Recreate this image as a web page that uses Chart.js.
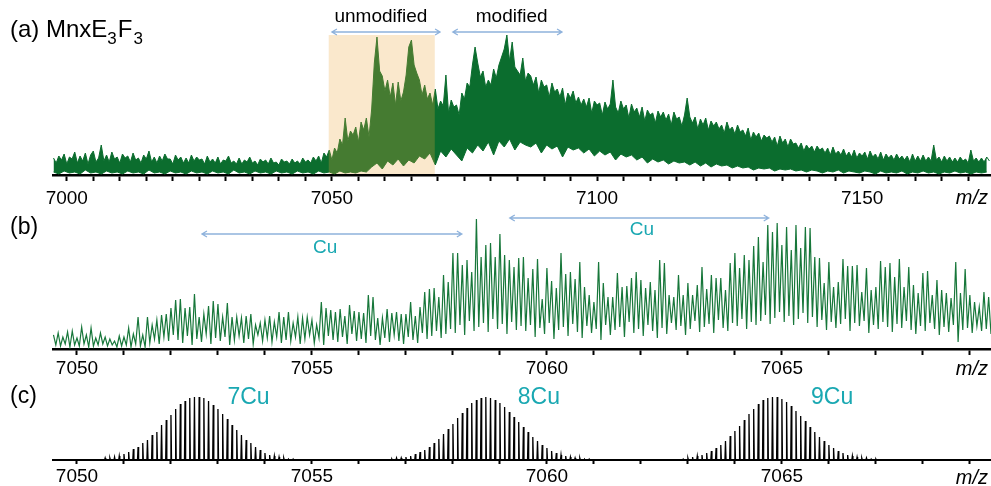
<!DOCTYPE html>
<html>
<head>
<meta charset="utf-8">
<script src="https://cdn.jsdelivr.net/npm/chart.js@4.4.0/dist/chart.umd.min.js"></script>
<style>
  html, body { margin: 0; padding: 0; background: #fff; }
  #wrap { position: relative; width: 991px; height: 486px; overflow: hidden; background: #fff; }
  canvas { position: absolute; left: 0; }
</style>
</head>
<body>
<div id="wrap">
  <canvas id="chart-a" width="991" height="215" style="top:0px"></canvas>
  <canvas id="chart-b" width="991" height="180" style="top:210px"></canvas>
  <canvas id="chart-c" width="991" height="101" style="top:385px"></canvas>
</div>
<script>
// (a) full spectrum: upper edge every 0.5 m/z from 6997.5
const scanStart = 6997.5;
const scanStep = 0.5;
const scanTop = [
  17,12,19,15,21,11,18,16,23,12, 19,14,22,11,20,24,13,17,30,14,
  20,13,23,16,18,12,21,17,19,13, 22,15,17,12,20,16,24,13,18,12,
  19,14,21,16,16,11,20,15,18,12, 17,12,20,14,18,15,16,11,19,13,
  16,12,18,11,15,14,19,12,14,11, 17,11,15,13,18,12,14,10,16,13,
  15,11,17,12,13,10,16,13,14,11, 16,12,14,11,17,13,15,12,18,14,
  19,12,22,18,25,15,27,22,36,30, 57,34,44,40,48,33,53,45,57,38,
  66,112,138,104,99,84,95,78,92,70, 93,74,83,100,128,135,110,102,95,80,
  90,76,82,70,86,66,74,69,100,62, 75,68,70,60,82,76,92,88,110,128,
  112,98,104,88,95,90,106,97,110,118, 126,140,114,133,108,104,100,117,94,102,
  99,90,98,82,95,88,90,78,92,83, 86,78,87,70,82,77,84,72,78,70,
  76,68,77,62,74,70,72,60,73,66, 71,95,68,62,74,66,70,57,71,63,
  67,58,68,54,65,60,62,52,64,58, 63,55,61,50,63,56,58,49,60,77,
  58,52,58,46,56,50,57,45,54,49, 53,46,50,42,53,45,48,41,50,43,
  45,39,47,35,43,38,42,34,40,37, 39,33,38,29,39,32,36,28,36,31,
  32,27,32,24,30,26,29,23,29,25, 27,22,27,20,28,21,24,20,26,19,
  23,18,25,17,22,19,23,16,24,18, 21,16,23,15,21,17,20,15,21,16,
  19,15,19,13,21,14,19,14,20,14, 18,14,30,15,18,13,19,14,18,13,
  17,13,18,14,16,12,25,14,17,13, 17,13,18,14
];
// lower edge of the same trace, every 1 m/z
const scanBottomStep = 1;
const scanBottom = [
  3,1,4,2,3,1,5,2,3,1, 4,2,3,1,4,2,3,1,5,2, 3,1,4,2,3,1,4,2,3,1,
  4,2,3,1,5,2,3,1,4,2, 3,1,4,2,3,1,4,2,3,1, 4,2,3,1,4,2,3,2,4,3,
  8,12,6,14,10,16,9,15,12,19, 16,22,10,24,18,26,20,14,27,22,
  30,24,33,20,34,28,36,25,33,30, 28,32,22,30,26,29,18,28,25,27,
  22,26,19,24,20,23,15,21,18,20, 15,18,12,16,13,15,11,14,12,13,
  10,13,9,12,8,11,9,10,7,9, 7,8,5,7,6,7,4,6,5,6,
  4,5,3,5,4,2,4,3,5,2, 4,3,2,4,3,1,4,2,3,2, 4,1,3,2,4,2,3,1,3,2, 4,2,3,1,3,2,3
];

// (b) expanded region: one peak top and one valley per isotope (0.1 m/z)
const zoomStart = 7049.5;
const zoomStep = 0.1;
const zoomPeaks = [
  14,16,12,17,18,11,22,14,21,11, 16,12,10,8,13,12,21,15,32,14,
  32,24,29,34,35,41,49,50,41,42, 55,32,35,43,48,45,32,46,32,32,
  31,33,35,24,26,29,33,27,37,32, 37,26,32,31,32,29,24,47,41,39,
  37,40,33,44,38,37,36,54,52,31, 31,40,36,37,35,35,47,33,42,57,
  60,61,52,74,67,96,96,84,89,77, 130,92,104,106,92,115,94,89,82,91,
  92,71,80,90,50,81,68,61,96,75, 77,70,87,62,54,47,87,66,52,52,
  76,62,63,71,77,69,61,67,59,89, 86,54,52,74,54,66,54,64,82,60,
  74,71,71,59,86,96,81,94,89,103, 112,87,124,117,126,104,122,99,124,101,
  122,121,92,91,66,87,62,67,90,83, 83,84,57,81,59,62,88,82,86,72,
  90,62,82,64,56,76,78,54,69,59, 56,51,87,56,80,54,47,42,57,52
];
const zoomValleys = [
  4,3,5,2,4,3,5,2,3,4, 5,3,4,2,3,4,2,5,3,2,
  6,10,5,12,8,14,9,6,13,4, 10,7,15,5,11,8,12,4,9,13,
  6,10,5,14,8,11,7,12,6,9, 8,12,5,10,14,6,11,4,13,9,
  7,12,5,15,8,10,6,13,9,4, 11,7,14,8,5,12,9,6,16,10,
  13,18,11,15,20,16,24,14,28,18, 22,26,17,30,20,25,15,27,19,23,
  18,24,12,21,15,26,10,19,22,13, 25,17,11,23,16,20,9,24,14,19,
  22,12,27,16,20,13,24,18,11,21, 15,26,19,23,14,20,28,17,22,25,
  16,29,21,18,26,23,30,20,27,24, 28,34,25,31,37,27,33,24,30,36,
  26,32,22,29,19,27,21,25,30,18, 26,23,28,16,24,20,27,22,17,25,
  21,28,19,15,23,18,26,20,14,22, 17,24,7,19,21,16,23,18,20,15
];

// (c) simulated isotope patterns, 0.1 m/z apart
const isoStep = 0.1;
const cu7Start = 7050.6;
const cu7 = [2,2,3,4,6,8,11,13,17,20,25,28,35,40,45,51,56,59,62,63,63,62,59,55,51,46,41,35,30,25,20,17,13,10,7,5,4,3,2,1,1];
const cu8Start = 7056.7;
const cu8 = [1,2,2,3,4,6,8,10,13,17,21,26,31,36,42,47,52,57,60,62,63,62,60,57,53,48,43,38,33,28,23,19,15,12,9,7,5,4,3,2,2,1,1];
const cu9Start = 7062.9;
const cu9 = [1,2,3,4,5,7,9,12,15,19,24,29,34,40,46,51,56,60,62,63,63,61,58,54,49,44,39,33,28,23,19,15,12,9,7,5,4,3,2,2,1,1];

const FONT = '"Liberation Sans", Arial, Helvetica, sans-serif';
const GREEN = '#0b6d2e';
const LINE_GREEN = '#17773a';
const TEAL = '#1aa8b2';
const ARROW = '#8eb2dc';

function drawArrow(ctx, x1, x2, y) {
    ctx.save();
    ctx.strokeStyle = ARROW;
    ctx.lineWidth = 1.3;
    ctx.beginPath();
    ctx.moveTo(x1, y); ctx.lineTo(x2, y);
    ctx.moveTo(x1 + 5, y - 3); ctx.lineTo(x1, y); ctx.lineTo(x1 + 5, y + 3);
    ctx.moveTo(x2 - 5, y - 3); ctx.lineTo(x2, y); ctx.lineTo(x2 - 5, y + 3);
    ctx.stroke();
    ctx.restore();
}

// shaded box, arrows and text labels, placed with the chart's own scales
const annotate = {
    id: 'annotate',
    afterDatasetsDraw(chart, args, opts) {
        if (!opts.shade) return;
        const sx = chart.scales.x, sy = chart.scales.y, s = opts.shade;
        const l = sx.getPixelForValue(s.from), r = sx.getPixelForValue(s.to);
        const t = sy.getPixelForValue(s.top), b = sy.getPixelForValue(1);
        chart.ctx.save();
        chart.ctx.fillStyle = s.color;
        chart.ctx.fillRect(l, t, r - l, b - t);
        chart.ctx.restore();
    },
    afterDraw(chart, args, opts) {
        const ctx = chart.ctx, sx = chart.scales.x, sy = chart.scales.y;
        (opts.arrows || []).forEach(a => {
            drawArrow(ctx, sx.getPixelForValue(a.from), sx.getPixelForValue(a.to), sy.getPixelForValue(a.y));
        });
        (opts.labels || []).forEach(l => {
            ctx.save();
            ctx.font = l.font;
            ctx.fillStyle = l.color || '#000';
            ctx.textAlign = l.align || 'center';
            ctx.textBaseline = 'middle';
            const px = l.px !== undefined ? l.px : sx.getPixelForValue(l.x);
            const py = l.py !== undefined ? l.py : sy.getPixelForValue(l.y);
            ctx.fillText(l.text, px, py);
            ctx.restore();
        });
        if (opts.title) {
            let x = opts.title.x;
            ctx.save();
            ctx.fillStyle = '#000';
            ctx.textBaseline = 'alphabetic';
            ctx.textAlign = 'left';
            opts.title.parts.forEach(p => {
                ctx.font = p.size + 'px ' + FONT;
                ctx.fillText(p.text, x, opts.title.y + p.dy);
                x += ctx.measureText(p.text).width + (p.gap || 0);
            });
            ctx.restore();
        }
    }
};

function panelOptions(cfg) {
    return {
        responsive: false,
        animation: false,
        devicePixelRatio: 1,
        layout: { padding: { left: 53, right: 0, top: cfg.top, bottom: 0 } },
        elements: { point: { radius: 0 }, line: { tension: 0 } },
        scales: {
            x: {
                type: 'linear',
                min: cfg.min,
                max: cfg.max,
                afterFit: (s) => { s.height = cfg.axisHeight; },
                border: { display: true, color: '#000', width: cfg.axisWidth },
                grid: { display: true, drawOnChartArea: false, drawTicks: true, tickLength: cfg.tickLength, tickColor: '#000', tickWidth: 2 },
                ticks: {
                    stepSize: cfg.minorStep,
                    includeBounds: false,
                    autoSkip: false,
                    maxRotation: 0,
                    color: '#000',
                    padding: cfg.labelPad,
                    font: { family: FONT, size: 19 },
                    callback: (v) => (Math.round(v) % cfg.majorStep === 0 ? String(Math.round(v)) : '')
                }
            },
            y: { display: false, min: 0, max: cfg.yMax }
        },
        plugins: {
            legend: { display: false },
            tooltip: { enabled: false },
            annotate: cfg.annotate
        }
    };
}

// ---- (a)
const topPoints = scanTop.map((v, i) => ({ x: scanStart + i * scanStep, y: v }));
const bottomPoints = scanBottom.map((v, i) => ({ x: scanStart + i * scanBottomStep, y: v }));

new Chart(document.getElementById('chart-a'), {
    type: 'line',
    data: {
        datasets: [
            { data: topPoints, borderColor: GREEN, borderWidth: 1, backgroundColor: GREEN, fill: '+1' },
            { data: bottomPoints, borderColor: GREEN, borderWidth: 1, fill: false }
        ]
    },
    options: panelOptions({
        top: 30, axisHeight: 40, min: 6997.4, max: 7174.3, yMax: 145,
        minorStep: 5, majorStep: 50, tickLength: 6, labelPad: 6, axisWidth: 2.5,
        annotate: {
            shade: { from: 7049.4, to: 7069.4, top: 140, color: 'rgba(236,166,59,0.26)' },
            arrows: [ { from: 7050.0, to: 7070.4, y: 143 }, { from: 7072.8, to: 7093.4, y: 143 } ],
            labels: [
                { text: 'unmodified', x: 7059.25, y: 158, font: '19px ' + FONT },
                { text: 'modified', x: 7083.9, y: 158, font: '19px ' + FONT },
                { text: 'm/z', px: 988, py: 198, align: 'right', font: 'italic 20px ' + FONT }
            ],
            title: { x: 10, y: 37, parts: [
                { text: '(a) MnxE', size: 24, dy: 0 },
                { text: '3', size: 17, dy: 7, gap: 1 },
                { text: 'F', size: 24, dy: 0, gap: 1 },
                { text: '3', size: 17, dy: 7 }
            ] }
        }
    }),
    plugins: [annotate]
});

// ---- (b)
const zoomPoints = [];
zoomPeaks.forEach((v, i) => {
    zoomPoints.push({ x: zoomStart + i * zoomStep, y: v });
    zoomPoints.push({ x: zoomStart + i * zoomStep + zoomStep / 2, y: zoomValleys[i] });
});

new Chart(document.getElementById('chart-b'), {
    type: 'line',
    data: { datasets: [ { data: zoomPoints, borderColor: LINE_GREEN, borderWidth: 1.2, fill: false } ] },
    options: panelOptions({
        top: 5, axisHeight: 41, min: 7049.49, max: 7069.45, yMax: 134,
        minorStep: 1, majorStep: 5, tickLength: 6, labelPad: 2, axisWidth: 2.5,
        annotate: {
            arrows: [ { from: 7052.66, to: 7058.19, y: 115 }, { from: 7059.21, to: 7064.72, y: 131 } ],
            labels: [
                { text: 'Cu', x: 7055.28, y: 101, color: TEAL, font: '19px ' + FONT },
                { text: 'Cu', x: 7062.02, y: 119, color: TEAL, font: '19px ' + FONT },
                { text: '(b)', px: 10, py: 18, align: 'left', font: '23px ' + FONT },
                { text: 'm/z', px: 988, py: 159, align: 'right', font: 'italic 20px ' + FONT }
            ]
        }
    }),
    plugins: [annotate]
});

// ---- (c)
function stickPoints(start, heights) {
    const pts = [];
    heights.forEach((h, i) => {
        const m = start + i * isoStep;
        pts.push({ x: m - 0.012, y: 0 }, { x: m, y: h }, { x: m + 0.012, y: 0 });
    });
    return pts;
}

new Chart(document.getElementById('chart-c'), {
    type: 'line',
    data: {
        datasets: [
            { data: stickPoints(cu7Start, cu7), borderColor: '#000', borderWidth: 1.3, fill: false },
            { data: stickPoints(cu8Start, cu8), borderColor: '#000', borderWidth: 1.3, fill: false },
            { data: stickPoints(cu9Start, cu9), borderColor: '#000', borderWidth: 1.3, fill: false }
        ]
    },
    options: panelOptions({
        top: 10, axisHeight: 26, min: 7049.49, max: 7069.45, yMax: 65,
        minorStep: 1, majorStep: 5, tickLength: 4, labelPad: 1, axisWidth: 2,
        annotate: {
            labels: [
                { text: '7Cu', x: 7053.65, y: 62, color: TEAL, font: '23px ' + FONT },
                { text: '8Cu', x: 7059.83, y: 62, color: TEAL, font: '23px ' + FONT },
                { text: '9Cu', x: 7066.07, y: 62, color: TEAL, font: '23px ' + FONT },
                { text: '(c)', px: 10, py: 12, align: 'left', font: '23px ' + FONT },
                { text: 'm/z', px: 988, py: 93, align: 'right', font: 'italic 20px ' + FONT }
            ]
        }
    }),
    plugins: [annotate]
});
</script>
</body>
</html>
